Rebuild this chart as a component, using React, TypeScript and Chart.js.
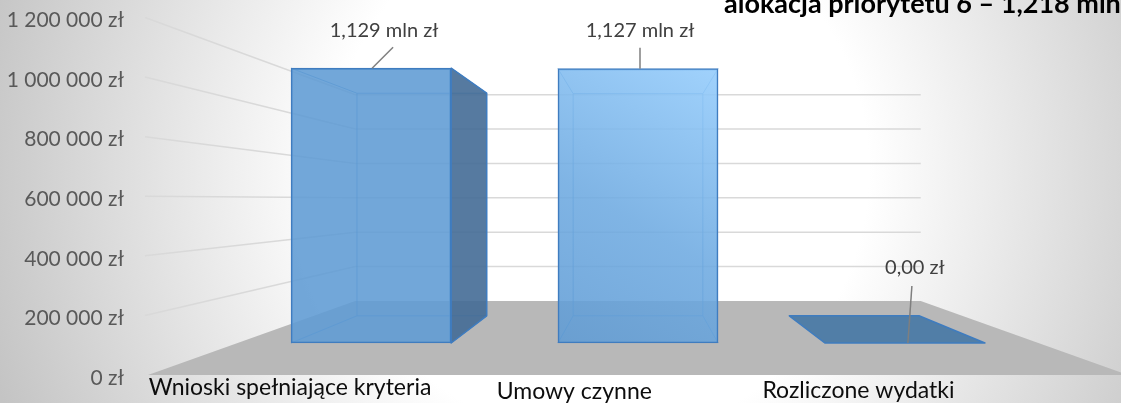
import React, { useEffect, useRef } from "react";
import { Chart, registerables } from "chart.js";

Chart.register(...registerables);

// ---- data ----
const categories = ["Wnioski spełniające kryteria", "Umowy czynne", "Rozliczone wydatki"];
const values = [1129000, 1127000, 0];
const yTicks = [0, 200000, 400000, 600000, 800000, 1000000, 1200000];
const titleText = "alokacja priorytetu 6 – 1,218 mln zł";

// ---- layout / perspective (not data) ----
const W = 1121;
const H = 403;
const AREA_LEFT = 148;
const AREA_TOP = 17.5;
const AREA_BOTTOM = 375;
const Y_MAX = 1200000;
const VPX = 638;
const VPY = 200;
const D_BAR = 0.817; // bar front faces relative to axis plane
const D_BACK = 0.81; // bar back faces relative to bar front faces
const D_WALL = 0.577; // back wall relative to axis plane
const FLOOR_RIGHT = VPX + (VPX - AREA_LEFT);
const CAT_W = (FLOOR_RIGHT - AREA_LEFT) / categories.length;
const STEP = D_BAR * CAT_W;
const FIRST_CENTRE = VPX + D_BAR * (AREA_LEFT + CAT_W / 2 - VPX);
const AREA_W = W - AREA_LEFT;
const XB_MIN = -(FIRST_CENTRE - AREA_LEFT) / STEP;
const XB_MAX = XB_MIN + AREA_W / STEP;
const AREA_H = AREA_BOTTOM - AREA_TOP;
const PPU_BAR = (D_BAR * AREA_H) / Y_MAX;
const BAR_ZERO = VPY + D_BAR * (AREA_BOTTOM - VPY);
const YB_MIN = -(AREA_BOTTOM - BAR_ZERO) / PPU_BAR;
const YB_MAX = YB_MIN + AREA_H / PPU_BAR;
const LABEL_SPREAD = 0.87;
const LABEL_POS = [
  { dx: 13, dy: -38, lx: 1, ly: -21, lx2: 22 },
  { dx: 2, dy: -38, lx: 2, ly: -21, lx2: 2 },
  { dx: 10, dy: -75, lx: 3, ly: -57, lx2: 7 },
];
const CAT_DY = [13, 17, 16];

const FONT = "Lato, 'Open Sans', sans-serif";

const fmtAxis = (v: number) => String(v).replace(/\B(?=(\d{3})+(?!\d))/g, " ") + " zł";
const fmtLabel = (v: number) =>
  v === 0 ? "0,00 zł" : (v / 1e6).toFixed(3).replace(".", ",") + " mln zł";

const perspectivePlugin = {
  id: "perspective3d",
  beforeDraw(chart: any) {
    const { ctx } = chart;
    ctx.save();
    const g = ctx.createRadialGradient(600, 170, 0, 600, 170, 640);
    g.addColorStop(0, "#ffffff");
    g.addColorStop(0.42, "#ffffff");
    g.addColorStop(1, "#c4c4c4");
    ctx.fillStyle = g;
    ctx.fillRect(0, 0, chart.width, chart.height);
    ctx.restore();
  },
  beforeDatasetsDraw(chart: any) {
    const { ctx, chartArea: a, scales } = chart;
    const ys = scales.y;
    const front = (v: number) => ys.getPixelForValue(v);
    const wx = (x: number) => VPX + D_WALL * (x - VPX);
    const wy = (y: number) => VPY + D_WALL * (y - VPY);
    const fl = a.left;
    const fr = VPX + (VPX - a.left);
    const y0 = front(0);
    ctx.save();
    // floor
    ctx.fillStyle = "#b8b8b8";
    ctx.beginPath();
    ctx.moveTo(fl, y0);
    ctx.lineTo(wx(fl), wy(y0));
    ctx.lineTo(wx(fr), wy(y0));
    ctx.lineTo(fr, y0);
    ctx.closePath();
    ctx.fill();
    // gridlines on left wall and back wall
    ctx.strokeStyle = "#d9d9d9";
    ctx.lineWidth = 1.5;
    yTicks.forEach((v) => {
      if (v === 0) return;
      const y = front(v);
      ctx.beginPath();
      ctx.moveTo(fl - 3, y);
      ctx.lineTo(wx(fl), wy(y));
      ctx.lineTo(wx(fr), wy(y));
      ctx.stroke();
    });
    // bars depth
    const meta = chart.getDatasetMeta(0);
    const bx = (X: number) => VPX + D_BACK * (X - VPX);
    const by = (Y: number) => VPY + D_BACK * (Y - VPY);
    meta.data.forEach((el: any) => {
      const { x, y, base, width } = el.getProps(["x", "y", "base", "width"], true);
      const l = x - width / 2;
      const r = x + width / 2;
      const top = Math.min(y, base);
      const bot = Math.max(y, base);
      if (bot - top > 1) {
        ctx.strokeStyle = "rgba(70,135,200,0.75)";
        ctx.lineWidth = 1;
        ctx.beginPath();
        ctx.rect(bx(l), by(top), bx(r) - bx(l), by(bot) - by(top));
        ctx.moveTo(l, top);
        ctx.lineTo(bx(l), by(top));
        ctx.moveTo(r, top);
        ctx.lineTo(bx(r), by(top));
        ctx.moveTo(l, bot);
        ctx.lineTo(bx(l), by(bot));
        ctx.moveTo(r, bot);
        ctx.lineTo(bx(r), by(bot));
        ctx.stroke();
      }
      ctx.fillStyle = "rgba(68,108,150,0.9)";
      ctx.strokeStyle = "#3f7cbf";
      ctx.lineWidth = 1.5;
      ctx.lineJoin = "round";
      if (bx(r) > r + 0.5 && bot - top > 1) {
        ctx.beginPath();
        ctx.moveTo(r, top);
        ctx.lineTo(bx(r), by(top));
        ctx.lineTo(bx(r), by(bot));
        ctx.lineTo(r, bot);
        ctx.closePath();
        ctx.fill();
        ctx.stroke();
      }
      if (bx(l) < l - 0.5 && bot - top > 1) {
        ctx.beginPath();
        ctx.moveTo(l, top);
        ctx.lineTo(bx(l), by(top));
        ctx.lineTo(bx(l), by(bot));
        ctx.lineTo(l, bot);
        ctx.closePath();
        ctx.fill();
        ctx.stroke();
      }
      if (by(top) < top - 0.5) {
        ctx.fillStyle = "rgba(70,120,165,0.9)";
        ctx.beginPath();
        ctx.moveTo(l, top);
        ctx.lineTo(r, top);
        ctx.lineTo(bx(r), by(top));
        ctx.lineTo(bx(l), by(top));
        ctx.closePath();
        ctx.fill();
        ctx.stroke();
      }
    });
    ctx.restore();
  },
  afterDatasetsDraw(chart: any) {
    const { ctx, chartArea: a } = chart;
    const meta = chart.getDatasetMeta(0);
    ctx.save();
    ctx.font = `20px ${FONT}`;
    ctx.fillStyle = "#404040";
    ctx.textAlign = "center";
    ctx.textBaseline = "middle";
    meta.data.forEach((el: any, i: number) => {
      const { x, y } = el.getProps(["x", "y"], true);
      const p = LABEL_POS[i];
      ctx.strokeStyle = "#7f7f7f";
      ctx.lineWidth = 1.5;
      ctx.beginPath();
      ctx.moveTo(x + p.lx, y);
      ctx.lineTo(x + p.lx2, y + p.ly);
      ctx.stroke();
      ctx.fillText(fmtLabel(values[i]), x + p.dx, y + p.dy);
    });
    const fl = a.left;
    const catW = (VPX + (VPX - a.left) - fl) / categories.length;
    ctx.font = `23px ${FONT}`;
    ctx.fillStyle = "#0d0d0d";
    categories.forEach((c, i) => {
      const fc = fl + catW * (i + 0.5);
      ctx.fillText(c, fl + LABEL_SPREAD * (fc - fl), a.bottom + CAT_DY[i]);
    });
    ctx.font = `bold 27px ${FONT}`;
    ctx.fillStyle = "#000000";
    ctx.textAlign = "left";
    ctx.textBaseline = "alphabetic";
    ctx.fillText(titleText, 724, 13);
    ctx.restore();
  },
};

export default function App() {
  const ref = useRef<HTMLCanvasElement | null>(null);
  useEffect(() => {
    if (!ref.current) return;
    Chart.defaults.font.family = FONT;
    const chart = new Chart(ref.current, {
      type: "bar",
      data: {
        datasets: [
          {
            label: "Kwota",
            data: values.map((v, i) => ({ x: i, y: v })),
            xAxisID: "xb",
            yAxisID: "yb",
            barThickness: 0.6 * STEP,
            borderWidth: 1.5,
            borderColor: "#3f7cbf",
            borderSkipped: false,
            backgroundColor: (c: any) => {
              const chart = c.chart;
              if (c.dataIndex === 1 && chart.chartArea && chart.scales.xb) {
                const xs = chart.scales.xb;
                const ysb = chart.scales.yb;
                const cx = xs.getPixelForValue(1);
                const w = 0.6 * STEP;
                const g = chart.ctx.createLinearGradient(
                  cx - w / 2,
                  ysb.getPixelForValue(0),
                  cx + w / 2,
                  ysb.getPixelForValue(values[1])
                );
                g.addColorStop(0, "rgba(95,155,212,0.88)");
                g.addColorStop(0.45, "rgba(110,170,225,0.88)");
                g.addColorStop(1, "rgba(150,205,252,0.9)");
                return g;
              }
              return "rgba(95,155,212,0.88)";
            },
          } as any,
        ],
      },
      options: {
        responsive: false,
        animation: false,
        events: [],
        layout: { padding: { left: 0, right: 0, top: AREA_TOP, bottom: H - AREA_BOTTOM } },
        plugins: { legend: { display: false }, tooltip: { enabled: false }, title: { display: false } },
        scales: {
          xb: {
            type: "linear",
            axis: "x",
            display: false,
            offset: false,
            min: XB_MIN,
            max: XB_MAX,
          },
          yb: {
            type: "linear",
            axis: "y",
            display: false,
            offset: false,
            min: YB_MIN,
            max: YB_MAX,
          },
          y: {
            type: "linear",
            position: "left",
            min: 0,
            max: Y_MAX,
            afterBuildTicks: (s: any) => {
              s.ticks = yTicks.map((v) => ({ value: v }));
            },
            afterFit: (s: any) => {
              s.width = AREA_LEFT;
            },
            grid: { display: false, drawTicks: true, tickLength: 24 },
            border: { display: false },
            ticks: {
              padding: 0,
              labelOffset: 3,
              color: "#595959",
              font: { family: FONT, size: 21 },
              callback: (v: any) => fmtAxis(Number(v)),
            },
          },
        } as any,
      },
      plugins: [perspectivePlugin],
    });
    return () => chart.destroy();
  }, []);
  return (
    <div style={{ position: "absolute", left: 0, top: 0, width: W, height: H, overflow: "hidden" }}>
      <canvas ref={ref} width={W} height={H} style={{ display: "block", width: W, height: H }} />
    </div>
  );
}
